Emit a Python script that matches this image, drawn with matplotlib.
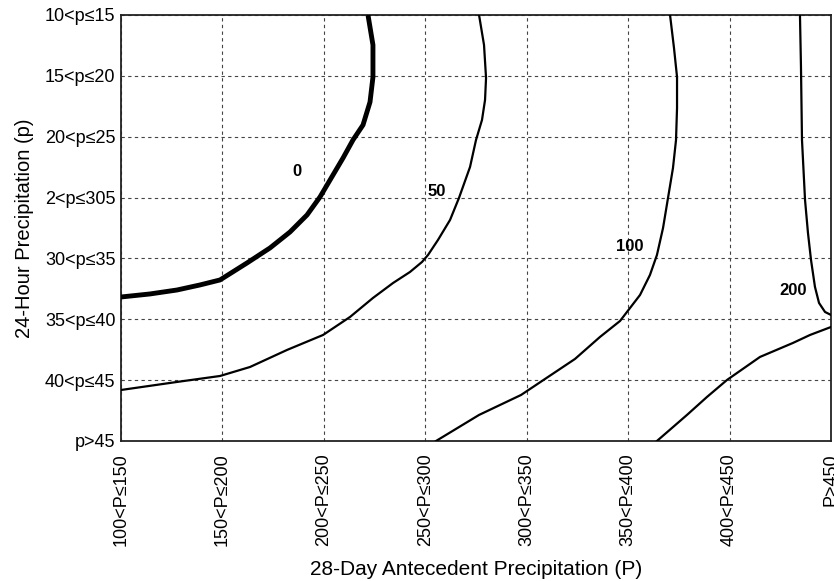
import matplotlib.pyplot as plt

plt.rcParams['font.family'] = ['Liberation Sans', 'DejaVu Sans']

# category labels (x: 28-day antecedent, y: 24-hour precipitation)
x_labels = ['100<P≤150', '150<P≤200', '200<P≤250', '250<P≤300',
            '300<P≤350', '350<P≤400', '400<P≤450', 'P>450']
y_labels = ['10<p≤15', '15<p≤20', '20<p≤25', '2<p≤305',
            '30<p≤35', '35<p≤40', '40<p≤45', 'p>45']

# contour traces, in category-index units
c0_x = [2.435, 2.484, 2.484, 2.455, 2.386, 2.287, 2.189, 2.061, 1.962,
        1.834, 1.666, 1.469, 1.242, 0.976, 0.779, 0.552, 0.286, 0.0]
c0_y = [0.0, 0.493, 1.019, 1.430, 1.807, 2.054, 2.350, 2.711, 2.990,
        3.286, 3.566, 3.828, 4.075, 4.354, 4.436, 4.519, 4.584, 4.634]

c50_x = [3.530, 3.579, 3.599, 3.589, 3.559, 3.500, 3.441, 3.332, 3.244,
         3.125, 3.027, 2.968, 2.849, 2.682, 2.484, 2.258, 1.992, 1.637,
         1.272, 0.976, 0.552, 0.0]
c50_y = [0.0, 0.493, 1.035, 1.397, 1.725, 2.054, 2.498, 3.007, 3.368,
         3.697, 3.943, 4.058, 4.223, 4.404, 4.650, 4.962, 5.258, 5.504,
         5.784, 5.932, 6.030, 6.162]

c100_x = [5.413, 5.452, 5.482, 5.482, 5.472, 5.442, 5.393, 5.344, 5.284,
          5.215, 5.117, 4.920, 4.722, 4.476, 4.210, 3.944, 3.530, 3.106]
c100_y = [0.0, 0.542, 1.019, 1.528, 2.054, 2.514, 3.007, 3.500, 3.943,
          4.272, 4.601, 5.028, 5.291, 5.652, 5.948, 6.244, 6.572, 7.0]

c200_x = [6.694, 6.704, 6.714, 6.744, 6.773, 6.803, 6.842, 6.882, 6.941, 7.0]
c200_y = [0.0, 0.854, 2.054, 3.040, 3.582, 4.026, 4.469, 4.732, 4.880, 4.929]

c200b_x = [7.0, 6.793, 6.625, 6.300, 5.975, 5.777, 5.580, 5.284]
c200b_y = [5.127, 5.258, 5.389, 5.619, 5.997, 6.277, 6.572, 7.0]

# contour labels: text, x, y
lab_text = ['0', '50', '100', '200']
lab_x = [1.735, 3.115, 5.018, 6.625]
lab_y = [2.580, 2.908, 3.812, 4.535]

fig = plt.figure(figsize=(8.34, 5.81), dpi=100)
ax = fig.add_axes([0.1451, 0.2410, 0.8513, 0.7332])

ax.plot(c0_x, c0_y, color='black', lw=3.5, solid_capstyle='butt',
        solid_joinstyle='round', zorder=3)
for xs, ys in [(c50_x, c50_y), (c100_x, c100_y), (c200_x, c200_y), (c200b_x, c200b_y)]:
    ax.plot(xs, ys, color='black', lw=1.6, solid_joinstyle='round', zorder=3)

for t, x, y in zip(lab_text, lab_x, lab_y):
    ax.text(x, y, t, ha='center', va='center', fontsize=12, fontweight='bold', zorder=4)

ax.set_xlim(0, 7)
ax.set_ylim(7, 0)
ax.set_xticks(range(len(x_labels)))
ax.set_xticklabels(x_labels, rotation=90, fontsize=13)
ax.set_yticks(range(len(y_labels)))
ax.set_yticklabels(y_labels, fontsize=13)
ax.tick_params(axis='x', length=0, pad=9)
ax.tick_params(axis='y', length=0, pad=4)

ax.grid(True, color='#444444', lw=0.8, linestyle=(0, (3, 3)))
for s in ax.spines.values():
    s.set_linewidth(1.3)
    s.set_color('#222222')

ax.set_xlabel('28-Day Antecedent Precipitation (P)', fontsize=15, labelpad=10)
ax.set_ylabel('24-Hour Precipitation (p)', fontsize=14.5, labelpad=8)

fig.savefig('out.png', dpi=100)
